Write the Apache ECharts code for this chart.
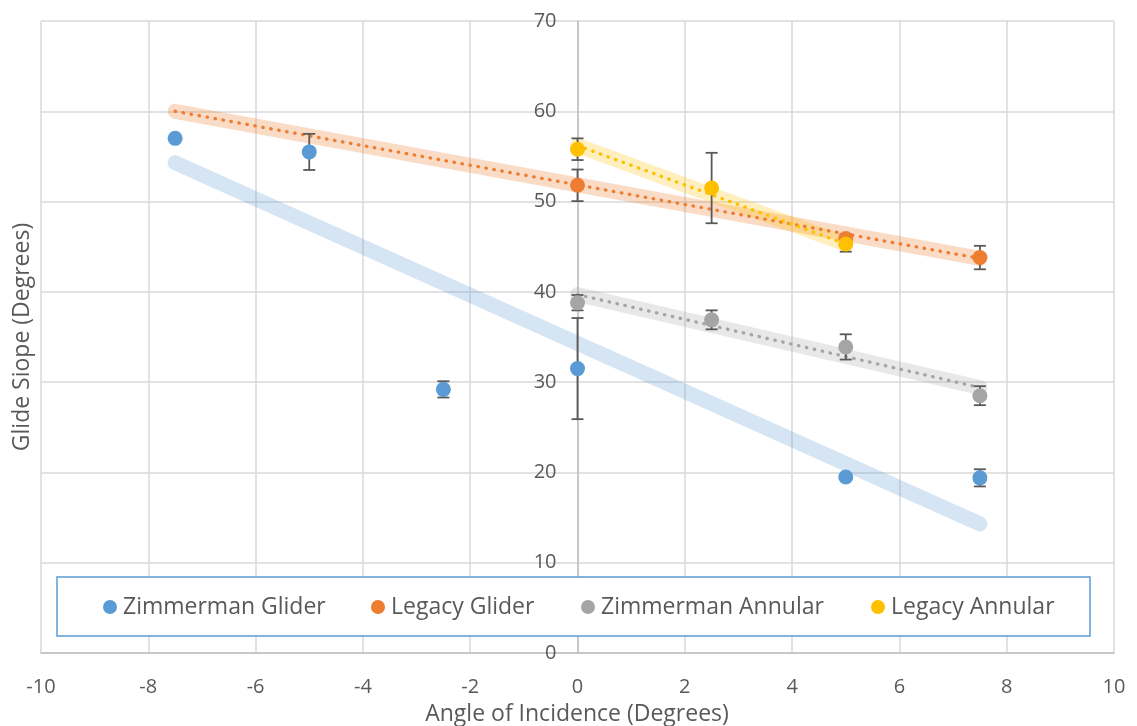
<!DOCTYPE html>
<html><head><meta charset="utf-8">
<script src="https://cdn.jsdelivr.net/npm/echarts@6/dist/echarts.min.js"></script>
<style>html,body{margin:0;padding:0;background:#fff}#c{width:1137px;height:726px}</style>
</head><body><div id="c"></div>
<script>
// ---- data ----
const seriesNames = ['Zimmerman Glider', 'Legacy Glider', 'Zimmerman Annular', 'Legacy Annular'];
const seriesColors = ['#5b9bd5', '#ed7d31', '#a5a5a5', '#ffc000'];

const zgX = [-7.5, -5, -2.5, 0, 5, 7.5];
const zgY = [57.0, 55.5, 29.2, 31.5, 19.5, 19.4];
const zgErr = [0, 2.0, 0.9, 5.6, 0, 0.95];

const lgX = [0, 5, 7.5];
const lgY = [51.8, 45.9, 43.8];
const lgErr = [1.75, 0.5, 1.3];

const zaX = [0, 2.5, 5, 7.5];
const zaY = [38.8, 36.9, 33.9, 28.5];
const zaErr = [0.85, 1.05, 1.4, 1.05];

const laX = [0, 2.5, 5];
const laY = [55.8, 51.5, 45.3];
const laErr = [1.2, 3.9, 0.85];

// trendline end points
const zgTrendX = [-7.5, 7.5];
const zgTrendY = [54.3, 14.3];
const lgTrendX = [-7.5, 7.5];
const lgTrendY = [60.0, 43.7];
const zaTrendX = [0, 7.5];
const zaTrendY = [39.7, 29.4];
const laTrendX = [0, 5];
const laTrendY = [56.2, 45.3];

const xTicks = [-10, -8, -6, -4, -2, 0, 2, 4, 6, 8, 10];
const yTicks = [0, 10, 20, 30, 40, 50, 60, 70];

const xTitle = 'Angle of Incidence (Degrees)';
const yTitle = 'Glide Siope (Degrees)';

// ---- helpers ----
const FONT = '"Open Sans", "DejaVu Sans", sans-serif';
const pts = (xs, ys) => xs.map((x, i) => [x, ys[i]]);

function bandSeries(xs, ys, rgba) {
  return {
    type: 'line', data: pts(xs, ys), symbol: 'none', silent: true, z: 2,
    lineStyle: { color: rgba, width: 15, cap: 'round' }
  };
}
function dottedSeries(xs, ys, color) {
  return {
    type: 'line', data: pts(xs, ys), symbol: 'none', silent: true, z: 2,
    lineStyle: { color: color, width: 3.3, type: [0.5, 7.6], cap: 'round' }
  };
}
function errorSeries(xs, ys, errs) {
  const data = [];
  xs.forEach((x, i) => { if (errs[i] > 0) data.push([x, ys[i] - errs[i], ys[i] + errs[i]]); });
  return {
    type: 'custom', silent: true, z: 3, data: data,
    encode: { x: 0, y: [1, 2] },
    renderItem(params, api) {
      const x = api.value(0);
      const lo = api.coord([x, api.value(1)]);
      const hi = api.coord([x, api.value(2)]);
      const hw = 6;
      const style = { stroke: '#595959', lineWidth: 1.8 };
      return { type: 'group', children: [
        { type: 'line', shape: { x1: lo[0], y1: lo[1], x2: hi[0], y2: hi[1] }, style: style },
        { type: 'line', shape: { x1: lo[0] - hw, y1: lo[1], x2: lo[0] + hw, y2: lo[1] }, style: style },
        { type: 'line', shape: { x1: hi[0] - hw, y1: hi[1], x2: hi[0] + hw, y2: hi[1] }, style: style }
      ] };
    }
  };
}
function scatterSeries(name, xs, ys, color) {
  return {
    type: 'scatter', name: name, data: pts(xs, ys), symbol: 'circle', symbolSize: 15, z: 4,
    itemStyle: { color: color, opacity: 1 }
  };
}
function legendAt(name, left) {
  return {
    data: [name], left: left, top: 594, padding: 0,
    icon: 'circle', itemWidth: 14, itemHeight: 14, itemGap: 0,
    textStyle: { color: '#595959', fontSize: 23, fontFamily: FONT, lineHeight: 26, padding: [0, 0, 0, 1] }
  };
}

const GRID_LEFT = 41, GRID_RIGHT = 23;
const plotWidth = 1137 - GRID_LEFT - GRID_RIGHT;
// shift the y axis so that it sits at x = 0 of the x axis (labels included)
const yAxisShift = -plotWidth * (0 - xTicks[0]) / (xTicks[xTicks.length - 1] - xTicks[0]);

const chart = echarts.init(document.getElementById('c'), null, { renderer: 'canvas' });
chart.setOption({
  backgroundColor: '#ffffff',
  animation: false,
  color: seriesColors,
  grid: { left: GRID_LEFT, right: GRID_RIGHT, top: 21, bottom: 73, containLabel: false, outerBoundsMode: 'none' },
  xAxis: {
    type: 'value', min: xTicks[0], max: xTicks[xTicks.length - 1], interval: xTicks[1] - xTicks[0],
    axisLine: { show: true, onZero: false, lineStyle: { color: '#bfbfbf', width: 1.5 } },
    axisTick: { show: false },
    splitLine: { show: true, lineStyle: { color: '#d9d9d9', width: 1.5 } },
    axisLabel: { color: '#595959', fontSize: 20, fontFamily: FONT, margin: 24 }
  },
  yAxis: {
    type: 'value', min: yTicks[0], max: yTicks[yTicks.length - 1], interval: yTicks[1] - yTicks[0],
    position: 'left', offset: yAxisShift,
    axisLine: { show: true, onZero: false, lineStyle: { color: '#bfbfbf', width: 1.5 } },
    axisTick: { show: false },
    splitLine: { show: true, lineStyle: { color: '#d9d9d9', width: 1.5 } },
    axisLabel: { color: '#595959', fontSize: 20, fontFamily: FONT, margin: 21 }
  },
  legend: [
    legendAt(seriesNames[0], 103),
    legendAt(seriesNames[1], 371),
    legendAt(seriesNames[2], 581),
    legendAt(seriesNames[3], 871)
  ],
  graphic: [
    { type: 'rect', z: 1, shape: { x: 57, y: 577, width: 1033, height: 59 },
      style: { fill: '#ffffff', stroke: '#5b9bd5', lineWidth: 1.5 } },
    { type: 'text', x: 577, y: 714, style: { text: xTitle, fill: '#595959', font: '23px ' + FONT, textAlign: 'center', textVerticalAlign: 'middle' } },
    { type: 'text', x: 22, y: 337, rotation: Math.PI / 2, style: { text: yTitle, fill: '#595959', font: '23px ' + FONT, textAlign: 'center', textVerticalAlign: 'middle' } }
  ],
  series: [
    bandSeries(zgTrendX, zgTrendY, 'rgba(91,155,213,0.26)'),
    bandSeries(lgTrendX, lgTrendY, 'rgba(237,125,49,0.28)'),
    bandSeries(zaTrendX, zaTrendY, 'rgba(165,165,165,0.25)'),
    bandSeries(laTrendX, laTrendY, 'rgba(255,192,0,0.25)'),
    dottedSeries(lgTrendX, lgTrendY, '#ed7d31'),
    dottedSeries(zaTrendX, zaTrendY, '#a5a5a5'),
    dottedSeries(laTrendX, laTrendY, '#ffc000'),
    errorSeries(zgX, zgY, zgErr),
    errorSeries(lgX, lgY, lgErr),
    errorSeries(zaX, zaY, zaErr),
    errorSeries(laX, laY, laErr),
    scatterSeries(seriesNames[0], zgX, zgY, seriesColors[0]),
    scatterSeries(seriesNames[1], lgX, lgY, seriesColors[1]),
    scatterSeries(seriesNames[2], zaX, zaY, seriesColors[2]),
    scatterSeries(seriesNames[3], laX, laY, seriesColors[3])
  ]
});
</script>
</body></html>
